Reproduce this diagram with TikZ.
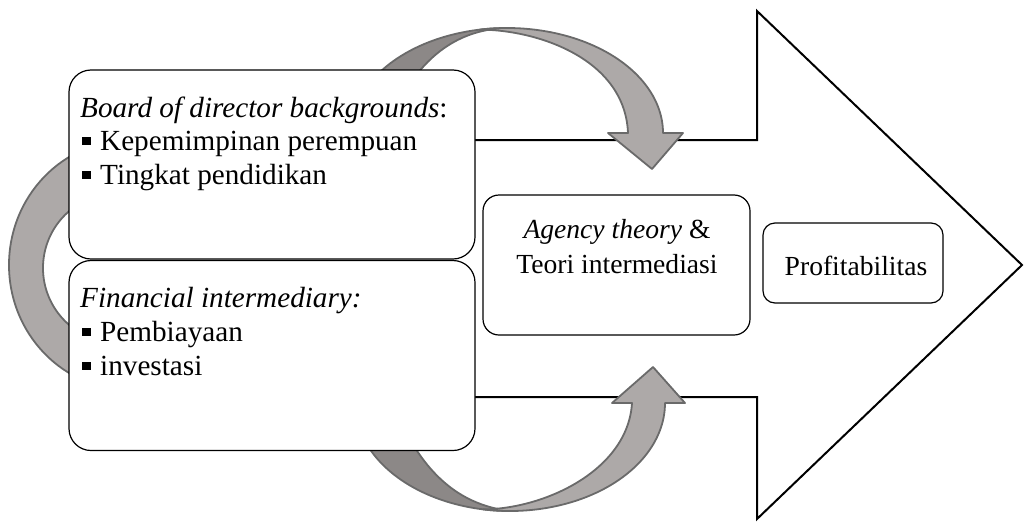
\documentclass[tikz,border=0pt]{standalone}
\usepackage{fontspec}
\setmainfont{Liberation Serif}
\definecolor{arrowfront}{HTML}{ADA9A8}
\definecolor{arrowback}{HTML}{8C8887}
\definecolor{arrowline}{HTML}{6A6A6A}
\newcommand{\bul}{\hspace{2pt}\rule[5pt]{8.5pt}{8.5pt}\hspace{9.5pt}}
\begin{document}
\begin{tikzpicture}[x=1pt,y=1pt,
  bigarrow/.style={draw=black,line width=2pt,line join=miter},
  crv/.style={draw=arrowline,line width=1.8pt,line join=round},
  box/.style={draw=black,fill=white,line width=1.2pt,rectangle,inner sep=0pt},
  lefttxt/.style={anchor=base west,inner sep=0pt,font=\fontsize{29.2}{33}\selectfont},
  righttxt/.style={anchor=base,inner sep=0pt,font=\fontsize{27.6}{33}\selectfont}]
\useasboundingbox (0,0) rectangle (1024,-522);
% big arrow
\draw[bigarrow] (470,-140) -- (757,-140) -- (757,-11) -- (1022,-265) -- (757,-519) -- (757,-397) -- (470,-397);
% top curved arrow
\filldraw[crv,fill=arrowback] (507,-28) arc[start angle=90,end angle=155,x radius=156,y radius=105] -- (400,-100) .. controls (430,-45) and (470,-29) .. (507,-28) -- cycle;
\filldraw[crv,fill=arrowfront] (628,-133) -- (608,-133) -- (652,-169) -- (683,-133) -- (663,-133) arc[start angle=0,end angle=100,x radius=156,y radius=105] .. controls (540,-30) and (625,-60) .. (628,-133) -- cycle;
% bottom curved arrow
\filldraw[crv,fill=arrowback] (510,-511) arc[start angle=-90,end angle=-205,x radius=155,y radius=108] -- (400,-420) .. controls (430,-485) and (470,-506) .. (510,-511) -- cycle;
\filldraw[crv,fill=arrowfront] (632,-403) -- (612,-403) -- (653,-367) -- (685,-403) -- (665,-403) arc[start angle=0,end angle=-100,x radius=155,y radius=108] .. controls (545,-509) and (628,-470) .. (632,-403) -- cycle;
% left curved arrow
\filldraw[crv,fill=arrowfront] (130,-140) arc[start angle=90,end angle=270,x radius=121,y radius=125] -- (118,-343) arc[start angle=270,end angle=90,radius=75] -- cycle;
% boxes
\node[box,minimum width=406pt,minimum height=189pt,rounded corners=22pt] (b1) at (272,-164.5) {};
\node[box,minimum width=406pt,minimum height=190pt,rounded corners=22pt] (b2) at (272,-355.5) {};
\node[box,minimum width=267pt,minimum height=140pt,rounded corners=16pt] (b3) at (616.5,-265) {};
\node[box,minimum width=180pt,minimum height=80pt,rounded corners=12pt] (b4) at (853,-263) {};
% texts
\node[lefttxt] (t1a) at (80,-117) {\textit{Board of director backgrounds}:};
\node[lefttxt] (t1b) at (80,-150) {\bul Kepemimpinan perempuan};
\node[lefttxt] (t1c) at (80,-184) {\bul Tingkat pendidikan};
\node[lefttxt] (t2a) at (80,-307) {\textit{Financial intermediary:}};
\node[lefttxt] (t2b) at (80,-341) {\bul Pembiayaan};
\node[lefttxt] (t2c) at (80,-375) {\bul investasi};
\node[righttxt] (t3a) at (617,-238) {\textit{Agency theory} \&};
\node[righttxt] (t3b) at (617,-273) {Teori intermediasi};
\node[righttxt] (t4) at (856,-275) {Profitabilitas};
\end{tikzpicture}
\end{document}
